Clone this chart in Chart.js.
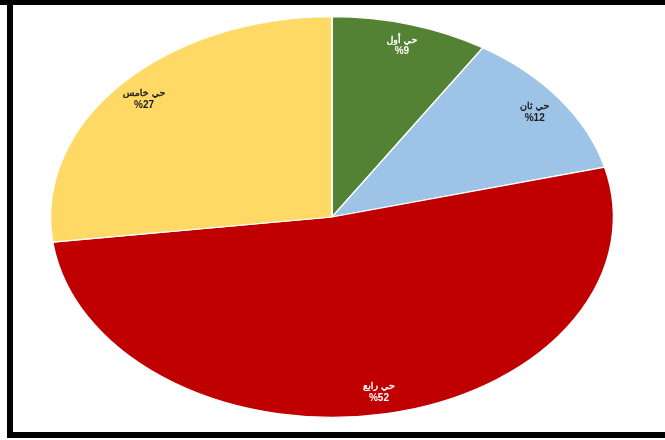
<!DOCTYPE html>
<html>
<head>
<meta charset="utf-8">
<script src="https://cdn.jsdelivr.net/npm/chart.js@4"></script>
<style>
  body { margin: 0; background: #fff; overflow: hidden; }
  canvas { display: block; }
</style>
</head>
<body>
<canvas id="myChart" width="665" height="440"></canvas>
<script>
// data
let labels = ['حي أول', 'حي ثان', 'حي رابع', 'حي خامس'];
let values = [9, 12, 52, 27];
let percentLabels = ['%9', '%12', '%52', '%27'];

let backgroundColor = ['#548235', '#9dc3e6', '#c00000', '#ffd966'];
let labelColor = ['#ffffff', '#1a1a1a', '#ffffff', '#1a1a1a'];

// stretch the pie into an ellipse (only the slices, not the text)
const stretchX = 281 / 200;

// black frame round the picture (open on the right side)
const framePlugin = {
    id: 'frame',
    beforeDraw(chart) {
        const ctx = chart.ctx;
        ctx.save();
        ctx.fillStyle = '#000';
        ctx.fillRect(0, 0, 665, 5);
        ctx.fillRect(7, 0, 6, 438);
        ctx.fillRect(7, 432, 658, 6);
        ctx.restore();
    }
};

const ellipsePlugin = {
    id: 'ellipse',
    beforeDatasetsDraw(chart) {
        const arc = chart.getDatasetMeta(0).data[0];
        const ctx = chart.ctx;
        ctx.save();
        ctx.translate(arc.x, arc.y);
        ctx.scale(stretchX, 1);
        ctx.translate(-arc.x, -arc.y);
    },
    afterDatasetsDraw(chart) {
        chart.ctx.restore();
    }
};

const labelPlugin = {
    id: 'sliceLabels',
    afterDraw(chart) {
        const ctx = chart.ctx;
        const meta = chart.getDatasetMeta(0);
        ctx.save();
        ctx.textAlign = 'center';
        ctx.textBaseline = 'middle';
        meta.data.forEach((arc, i) => {
            const mid = (arc.startAngle + arc.endAngle) / 2;
            const r = arc.outerRadius * 0.89;
            const x = arc.x + Math.cos(mid) * r * stretchX;
            const y = arc.y + Math.sin(mid) * r;
            ctx.fillStyle = labelColor[i];
            ctx.strokeStyle = labelColor[i];
            ctx.lineWidth = 0.4;
            ctx.direction = 'rtl';
            ctx.font = '9.5px "DejaVu Sans", sans-serif';
            ctx.fillText(labels[i], x, y - 5.5);
            ctx.strokeText(labels[i], x, y - 5.5);
            ctx.direction = 'ltr';
            ctx.font = 'bold 10px "Liberation Sans", Arial, sans-serif';
            ctx.fillText(percentLabels[i], x, y + 6);
        });
        ctx.restore();
    }
};

let ctx = document.getElementById('myChart').getContext('2d');

let myChart = new Chart(ctx, {
    type: 'pie',
    data: {
        labels: labels,
        datasets: [{
            data: values,
            backgroundColor: backgroundColor,
            borderColor: '#ffffff',
            borderWidth: 1.2
        }]
    },
    options: {
        responsive: false,
        animation: false,
        layout: {
            padding: { top: 16, bottom: 22, left: 131, right: 132 }
        },
        plugins: {
            legend: { display: false },
            tooltip: { enabled: false }
        }
    },
    plugins: [framePlugin, ellipsePlugin, labelPlugin]
});
</script>
</body>
</html>
